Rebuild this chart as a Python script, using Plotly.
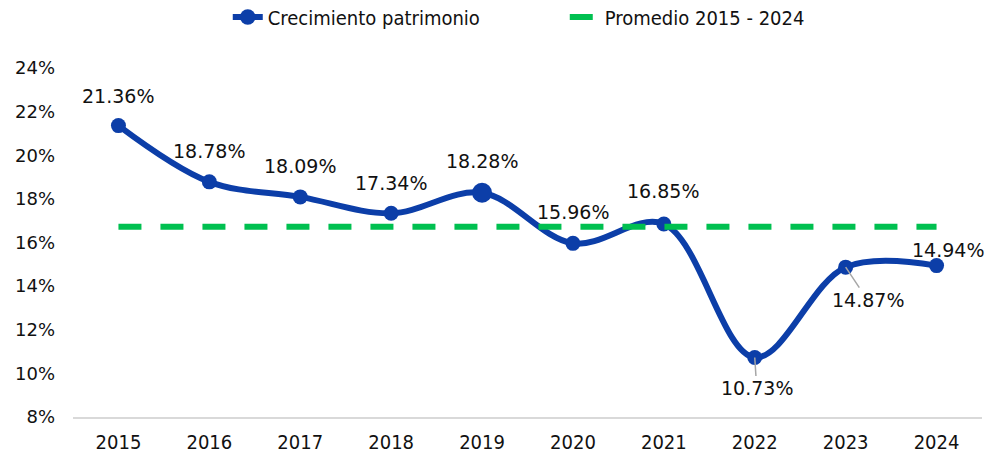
import plotly.graph_objects as go

years = ["2015", "2016", "2017", "2018", "2019", "2020", "2021", "2022", "2023", "2024"]
growth = [21.36, 18.78, 18.09, 17.34, 18.28, 15.96, 16.85, 10.73, 14.87, 14.94]
average = [16.72] * len(years)
label_text = ["21.36%", "18.78%", "18.09%", "17.34%", "18.28%", "15.96%", "16.85%", "10.73%", "14.87%", "14.94%"]
y_ticks = [8, 10, 12, 14, 16, 18, 20, 22, 24]

BLUE = "#0c3ea8"
GREEN = "#00c050"
LABEL_FONT = dict(family="DejaVu Sans, sans-serif", size=19, color="#111111")
TICK_FONT = dict(family="DejaVu Sans, sans-serif", size=18, color="#111111")
NARROW_FONT = dict(family="DejaVu Sans Condensed, DejaVu Sans, sans-serif", size=20, color="#111111")

marker_sizes = [15, 15, 15, 15, 20, 15, 15, 15, 15, 15]

fig = go.Figure()
fig.add_trace(go.Scatter(
    x=years, y=growth, name="Crecimiento patrimonio",
    mode="lines+markers",
    line=dict(color=BLUE, width=6, shape="spline", smoothing=1.0),
    marker=dict(color=BLUE, size=marker_sizes, opacity=1, line=dict(width=0)),
))
fig.add_trace(go.Scatter(
    x=years, y=average, name="Promedio 2015 - 2024",
    mode="lines",
    line=dict(color=GREEN, width=6, dash="23px,19px"),
))

# data labels: (xshift, yshift, showarrow, ax, ay)
offsets = [
    (0, 30, False, 0, 0),
    (0, 31, False, 0, 0),
    (0, 31, False, 0, 0),
    (0, 30, False, 0, 0),
    (0, 32, False, 0, 0),
    (0, 31, False, 0, 0),
    (-1, 33, False, 0, 0),
    (0, 0, True, 2, 31),
    (0, 0, True, 22, 33),
    (11, 16, False, 0, 0),
]
for i, (v, t, (xs, ys, arr, ax, ay)) in enumerate(zip(growth, label_text, offsets)):
    if arr:
        fig.add_annotation(x=i, y=v, text=t, showarrow=True, arrowhead=0,
                           arrowwidth=1.5, arrowcolor="#a6a6a6", ax=ax, ay=ay,
                           standoff=0, font=LABEL_FONT)
    else:
        fig.add_annotation(x=i, y=v, text=t, showarrow=False, xshift=xs, yshift=ys,
                           font=LABEL_FONT)

fig.update_layout(
    width=994, height=455,
    margin=dict(l=73, r=12, t=68, b=38, autoexpand=False),
    paper_bgcolor="white", plot_bgcolor="white",
    showlegend=True,
    legend=dict(orientation="h", x=0.541, xanchor="center", y=0.9626, yref="container",
                yanchor="middle", font=NARROW_FONT, tracegroupgap=0,
                entrywidth=292, entrywidthmode="pixels"),
    xaxis=dict(type="category", range=[-0.5, 9.5], showgrid=False, zeroline=False,
               showline=True, linecolor="#d9d9d9", linewidth=1.5,
               ticks="", tickfont=NARROW_FONT, ticklabelstandoff=6),
    yaxis=dict(range=[8, 24], tickvals=y_ticks, ticktext=[f"{v}%" for v in y_ticks],
               showgrid=False, zeroline=False, showline=False, ticks="",
               tickfont=TICK_FONT, ticklabelstandoff=17),
)

fig.write_html("out.html", config={"displayModeBar": False},
               post_script="document.body.style.margin='0';")
